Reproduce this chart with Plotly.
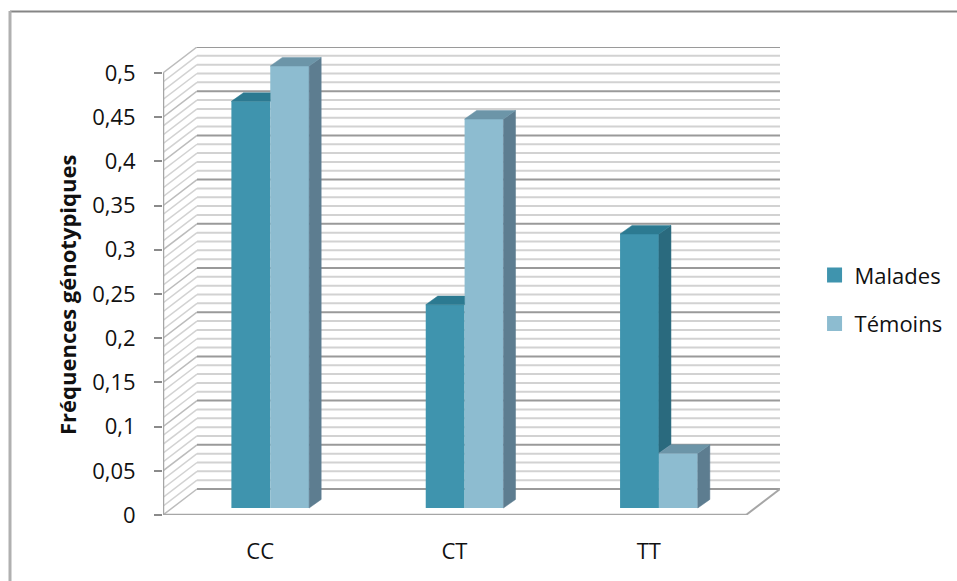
import plotly.graph_objects as go

# Chart data
categories = ["CC", "CT", "TT"]
malades = [0.46, 0.23, 0.31]
temoins = [0.50, 0.44, 0.062]
y_ticks = [0, 0.05, 0.1, 0.15, 0.2, 0.25, 0.3, 0.35, 0.4, 0.45, 0.5]
y_labels = ["0", "0,05", "0,1", "0,15", "0,2", "0,25", "0,3", "0,35", "0,4", "0,45", "0,5"]
y_title = "Fréquences génotypiques"

# Page and plot geometry, in pixels
W, H = 957, 581
M_L, M_R, M_T, M_B = 163, 177, 47, 66
PLOT_W, PLOT_H = W - M_L - M_R, H - M_T - M_B

# Oblique projection: walls and bars are offset in axis units
WALL_DX, WALL_DY = 0.175, 0.0294   # depth of the floor
BAR_DX, BAR_DY = 0.062, 0.0097     # depth of one bar
BAR_SHIFT, BAR_LIFT = 0.052, 0.0079  # bar position on the floor
BAR_W = 0.2
X_MIN, X_MAX = -0.5, 2.5
Y_MAX = 0.5 + WALL_DY

GRID_MINOR = "#d2d2d2"
GRID_MAJOR = "#9a9a9a"
EDGE = "#a6a6a6"
FONT = "Open Sans"
TEXT = "#111111"

C_M = dict(front="#3f94ae", top="#2c7a91", side="#2a6a7e")
C_T = dict(front="#8dbcd0", top="#6c95a8", side="#5d7d90")


def paper_x(px):
    return (px - M_L) / PLOT_W


def paper_y(py):
    return 1 - (py - M_T) / PLOT_H


def line(x0, y0, x1, y1, color, width=2):
    return dict(type="line", xref="x", yref="y", x0=x0, y0=y0, x1=x1, y1=y1,
                layer="below", line=dict(color=color, width=width))


def page_line(px0, py0, px1, py1, color, width):
    return dict(type="line", xref="paper", yref="paper",
                x0=paper_x(px0), x1=paper_x(px1), y0=paper_y(py0), y1=paper_y(py1),
                layer="below", line=dict(color=color, width=width))


def poly(xs, ys, color):
    return go.Scatter(x=xs + xs[:1], y=ys + ys[:1], mode="lines", fill="toself",
                      fillcolor=color, line=dict(color=color, width=0.5),
                      hoverinfo="skip", showlegend=False)


shapes = []
# Walls: one horizontal line and one wall diagonal for each hundredth
for i in range(51):
    v = i / 100
    major = i % 5 == 0
    color = GRID_MAJOR if major else GRID_MINOR
    shapes.append(line(X_MIN, v, X_MIN + WALL_DX, v + WALL_DY, "#bcbcbc" if major else GRID_MINOR, 1.5))
    shapes.append(line(X_MIN + WALL_DX, v + WALL_DY, X_MAX + WALL_DX, v + WALL_DY, color))

# Floor front edge, right edge and the axis lines
shapes.append(line(X_MIN, 0, X_MAX, 0, EDGE, 2.5))
shapes.append(line(X_MAX, 0, X_MAX + WALL_DX, WALL_DY, EDGE, 2))
shapes.append(line(X_MIN, 0, X_MIN, 0.5, EDGE, 2.5))

# Chart frame: only the top and left sides are drawn
shapes.append(page_line(10, 11.5, W, 11.5, "#858585", 2))
shapes.append(page_line(10, 11, 10, H, "#b0b0b0", 3))

fig = go.Figure()

# Front faces
x_m = [i + BAR_SHIFT - BAR_W / 2 for i in range(len(categories))]
x_t = [i + BAR_SHIFT + BAR_W / 2 for i in range(len(categories))]
fig.add_trace(go.Bar(x=x_m, y=malades, base=BAR_LIFT, width=BAR_W, name="Malades",
                     marker=dict(color=C_M["front"], line=dict(width=0)), showlegend=False))
fig.add_trace(go.Bar(x=x_t, y=temoins, base=BAR_LIFT, width=BAR_W, name="Témoins",
                     marker=dict(color=C_T["front"], line=dict(width=0)), showlegend=False))

# Top and side faces; the part of a Malades bar hidden by its Témoins neighbour is cut off
for cx, m, t in zip(x_m, malades, temoins):
    left, mid, right = cx - BAR_W / 2, cx + BAR_W / 2, cx + 3 * BAR_W / 2
    mt, tt = m + BAR_LIFT, t + BAR_LIFT
    if t > m:
        fig.add_trace(poly([left, left + BAR_DX, mid, mid],
                           [mt, mt + BAR_DY, mt + BAR_DY, mt], C_M["top"]))
    else:
        fig.add_trace(poly([mid, mid + BAR_DX, mid + BAR_DX, mid],
                           [mt, mt + BAR_DY, tt + BAR_DY, tt], C_M["side"]))
        fig.add_trace(poly([left, left + BAR_DX, mid + BAR_DX, mid],
                           [mt, mt + BAR_DY, mt + BAR_DY, mt], C_M["top"]))
    fig.add_trace(poly([right, right + BAR_DX, right + BAR_DX, right],
                       [BAR_LIFT, BAR_LIFT + BAR_DY, tt + BAR_DY, tt], C_T["side"]))
    fig.add_trace(poly([mid, mid + BAR_DX, right + BAR_DX, right],
                       [tt, tt + BAR_DY, tt + BAR_DY, tt], C_T["top"]))

# Legend keys
for name, col in (("Malades", C_M["front"]), ("Témoins", C_T["front"])):
    fig.add_trace(go.Scatter(x=[None], y=[None], mode="markers", name=name, legendgroup=name,
                             marker=dict(symbol="square", size=15, color=col)))

fig.update_layout(
    width=W, height=H,
    margin=dict(l=M_L, r=M_R, t=M_T, b=M_B, autoexpand=False),
    paper_bgcolor="white", plot_bgcolor="rgba(0,0,0,0)",
    font=dict(family=FONT, size=22, color=TEXT),
    barmode="overlay",
    shapes=shapes,
    hovermode=False,
    legend=dict(x=1.056, xref="paper", xanchor="left", y=0.46, yanchor="middle",
                yref="paper", tracegroupgap=17, itemwidth=30,
                font=dict(family=FONT, size=22, color=TEXT)),
    annotations=[dict(text="<b>" + y_title + "</b>", xref="paper", yref="paper",
                      x=paper_x(67), y=paper_y(295), textangle=-90, showarrow=False,
                      xanchor="center", yanchor="middle",
                      font=dict(family=FONT, size=22, color=TEXT))],
    xaxis=dict(range=[X_MIN, X_MAX + WALL_DX], tickmode="array",
               tickvals=list(range(len(categories))), ticktext=categories,
               showgrid=False, zeroline=False, showline=False, ticks="",
               ticklabelstandoff=21),
    yaxis=dict(range=[0, Y_MAX], tickmode="array", tickvals=y_ticks, ticktext=y_labels,
               showgrid=False, zeroline=False, showline=False,
               ticks="outside", ticklen=8, tickwidth=2, tickcolor="#8a8a8a",
               ticklabelstandoff=14),
)

fig.write_html("out.html")
